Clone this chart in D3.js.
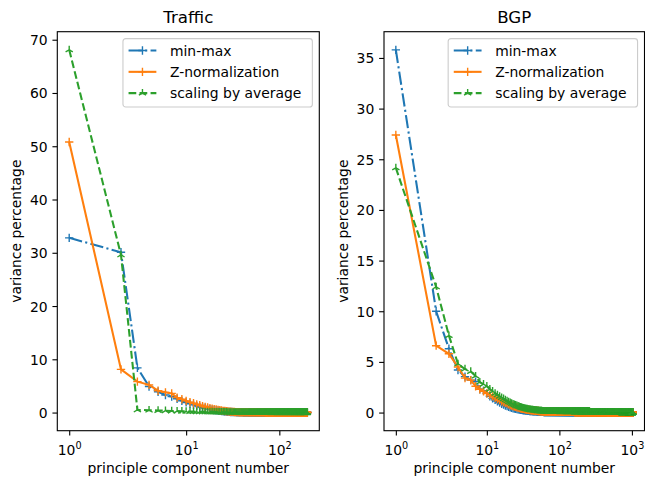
<!DOCTYPE html>
<html>
<head>
<meta charset="utf-8">
<script src="https://cdn.jsdelivr.net/npm/d3@7"></script>
<style>
body { margin: 0; background: #fff; }
text { font-family: "DejaVu Sans", sans-serif; fill: #000; }
</style>
</head>
<body>
<div id="chart"></div>
<script>
// values: first points one by one, the flat tail as [value, count] runs
var seriesLabels = ["min-max", "Z-normalization", "scaling by average"];

var trafficMinMax = [32.8, 30.1, 8.4, 4.9, 3.9, 3.3, 3.0, 2.6, 2.2, 1.9,
    1.65, 1.45, 1.25, 1.1, 0.95, 0.85, 0.75, 0.65, 0.55, 0.48,
    0.42, 0.36, 0.31, 0.27, 0.23, 0.2, 0.17, 0.15, 0.13, 0.11,
    0.1, 0.09, 0.08, 0.07, 0.06, 0.05, 0.05, 0.04, 0.04, 0.03];
var trafficMinMaxTail = [[0.02, 40], [0.01, 60], [0.0, 60]];

var trafficZNorm = [50.8, 8.1, 5.8, 5.2, 4.1, 3.8, 3.6, 2.8, 2.5, 2.2,
    1.95, 1.75, 1.55, 1.38, 1.22, 1.08, 0.95, 0.84, 0.74, 0.65,
    0.57, 0.5, 0.44, 0.38, 0.33, 0.29, 0.25, 0.22, 0.19, 0.16,
    0.14, 0.12, 0.1, 0.09, 0.08, 0.07, 0.06, 0.05, 0.04, 0.04];
var trafficZNormTail = [[0.03, 30], [0.02, 50], [0.01, 80]];

var trafficAverage = [68.1, 29.6, 0.5, 0.45, 0.38, 0.35, 0.3, 0.28, 0.25, 0.22,
    0.2, 0.18, 0.16, 0.15, 0.14, 0.13, 0.12, 0.11, 0.1, 0.09,
    0.09, 0.08, 0.08, 0.07, 0.07, 0.06, 0.06, 0.05, 0.05, 0.05,
    0.04, 0.04, 0.04, 0.04, 0.04, 0.04, 0.04, 0.04, 0.04, 0.04];
var trafficAverageTail = [[0.03, 40], [0.02, 60], [0.01, 60]];

var bgpMinMax = [35.8, 10.0, 6.3, 4.2, 3.55, 3.2, 3.05, 2.3, 2.15, 1.9,
    1.6, 1.4, 1.25, 1.1, 0.98, 0.87, 0.78, 0.7, 0.63, 0.57,
    0.52, 0.47, 0.43, 0.4, 0.37, 0.34, 0.32, 0.3, 0.28, 0.26,
    0.24, 0.22, 0.21, 0.2, 0.19, 0.18, 0.17, 0.16, 0.15, 0.15,
    0.14, 0.14, 0.13, 0.13, 0.12, 0.12, 0.11, 0.11, 0.1, 0.1,
    0.1, 0.09, 0.09, 0.09, 0.08, 0.08, 0.08, 0.07, 0.07, 0.07];
var bgpMinMaxTail = [[0.06, 40], [0.05, 60], [0.04, 100], [0.03, 200], [0.02, 264], [0.01, 300]];

var bgpZNorm = [27.4, 6.6, 5.8, 4.5, 3.4, 3.2, 2.6, 2.3, 2.1, 1.9,
    1.75, 1.6, 1.45, 1.33, 1.22, 1.12, 1.03, 0.95, 0.88, 0.81,
    0.75, 0.7, 0.65, 0.6, 0.56, 0.52, 0.49, 0.46, 0.43, 0.4,
    0.38, 0.36, 0.34, 0.32, 0.3, 0.28, 0.27, 0.26, 0.25, 0.24,
    0.23, 0.22, 0.21, 0.2, 0.19, 0.18, 0.18, 0.17, 0.16, 0.16,
    0.15, 0.15, 0.14, 0.14, 0.13, 0.13, 0.12, 0.12, 0.11, 0.11];
var bgpZNormTail = [[0.1, 40], [0.08, 60], [0.06, 100], [0.04, 200], [0.02, 264], [0.0, 300]];

var bgpAverage = [24.15, 12.4, 7.6, 4.8, 4.3, 4.05, 3.6, 3.0, 2.8, 2.6,
    2.3, 2.1, 1.9, 1.75, 1.6, 1.48, 1.36, 1.25, 1.15, 1.06,
    0.98, 0.9, 0.83, 0.77, 0.72, 0.67, 0.62, 0.58, 0.54, 0.5,
    0.47, 0.44, 0.41, 0.39, 0.37, 0.35, 0.33, 0.31, 0.29, 0.28,
    0.27, 0.26, 0.25, 0.24, 0.23, 0.22, 0.21, 0.2, 0.19, 0.18,
    0.18, 0.17, 0.17, 0.16, 0.16, 0.15, 0.15, 0.14, 0.14, 0.13];
var bgpAverageTail = [[0.12, 40], [0.1, 60], [0.08, 100], [0.05, 200], [0.03, 264], [0.01, 300]];

var trafficTicksY = [0, 10, 20, 30, 40, 50, 60, 70];
var bgpTicksY = [0, 5, 10, 15, 20, 25, 30, 35];
var trafficExpX = [0, 1, 2];
var bgpExpX = [0, 1, 2, 3];

function expand(head, tail) {
    var v = head.slice();
    tail.forEach(function(r) { for (var k = 0; k < r[1]; k++) v.push(r[0]); });
    return v;
}

// matplotlib symlog, base 10, linthresh 2, linscale 1
function symlog(x) {
    var lt = 2, adj = 1 / (1 - 1 / 10), a = Math.abs(x);
    if (a <= lt) return x * adj;
    return Math.sign(x) * lt * (adj + Math.log10(a / lt));
}

var colors = ["#1f77b4", "#ff7f0e", "#2ca02c"];
var dashes = ["13.3,3.3,2.1,3.3", null, "7.7,3.3"];
var r = 4.17;
var plusPath = "M" + (-r) + ",0H" + r + "M0," + (-r) + "V" + r;
var triPath = "M0,0V" + (-r) + "M0,0L" + (-0.866 * r) + "," + (0.5 * r) + "M0,0L" + (0.866 * r) + "," + (0.5 * r);
var markers = [plusPath, plusPath, triPath];

var svg = d3.select("#chart").append("svg")
    .attr("width", 645)
    .attr("height", 479);

var top_ = 31.7, bottom_ = 430.7;
var tick = 4.86, pad = 4.86;

function drawPanel(cfg) {
    var g = svg.append("g");
    var n = cfg.values[0].length;
    var t0 = symlog(1), t1 = symlog(n), tm = 0.05 * (t1 - t0);
    var x = d3.scaleLinear().domain([t0 - tm, t1 + tm]).range([cfg.left, cfg.right]);
    var all = [].concat.apply([], cfg.values);
    var ymin = d3.min(all), ymax = d3.max(all), ym = 0.05 * (ymax - ymin);
    var y = d3.scaleLinear().domain([ymin - ym, ymax + ym]).range([bottom_, top_]);

    var line = d3.line()
        .x(function(d, i) { return x(symlog(i + 1)); })
        .y(function(d) { return y(d); });

    cfg.values.forEach(function(vals, s) {
        g.append("path")
            .datum(vals)
            .attr("d", line)
            .attr("fill", "none")
            .attr("stroke", colors[s])
            .attr("stroke-width", 2.08)
            .attr("stroke-dasharray", dashes[s]);
        g.selectAll(".m" + s)
            .data(vals)
            .enter().append("path")
            .attr("class", "m" + s)
            .attr("d", markers[s])
            .attr("transform", function(d, i) { return "translate(" + x(symlog(i + 1)) + "," + y(d) + ")"; })
            .attr("fill", "none")
            .attr("stroke", colors[s])
            .attr("stroke-width", 1.39);
    });

    // x axis
    var gx = g.append("g")
        .attr("transform", "translate(0," + bottom_ + ")")
        .call(d3.axisBottom(x)
            .tickValues(cfg.expX.map(function(e) { return symlog(Math.pow(10, e)); }))
            .tickSize(tick).tickPadding(pad)
            .tickFormat(""));
    gx.select(".domain").remove();
    gx.selectAll(".tick line").attr("stroke-width", 1.11);
    gx.selectAll(".tick text").each(function(d, i) {
        var t = d3.select(this)
            .attr("y", null).attr("dy", null)
            .attr("transform", "translate(0,24)")
            .attr("font-size", 13.9)
            .attr("fill", "#000")
            .text("10");
        t.append("tspan").attr("dy", -6).attr("font-size", 9.7).text(cfg.expX[i]);
    });

    // y axis
    var gy = g.append("g")
        .attr("transform", "translate(" + cfg.left + ",0)")
        .call(d3.axisLeft(y).tickValues(cfg.ticksY).tickSize(tick).tickPadding(pad));
    gy.select(".domain").remove();
    gy.selectAll(".tick line").attr("stroke-width", 1.11);
    gy.selectAll(".tick text").attr("font-size", 13.9).attr("fill", "#000").attr("dy", "0.36em");
    gy.attr("font-family", null);
    gx.attr("font-family", null);

    // frame
    g.append("rect")
        .attr("x", cfg.left).attr("y", top_)
        .attr("width", cfg.right - cfg.left).attr("height", bottom_ - top_)
        .attr("fill", "none").attr("stroke", "#000").attr("stroke-width", 1.11);

    // title and labels
    g.append("text")
        .attr("x", (cfg.left + cfg.right) / 2).attr("y", 23.4)
        .attr("text-anchor", "middle").attr("font-size", 16.67)
        .text(cfg.title);
    g.append("text")
        .attr("x", (cfg.left + cfg.right) / 2).attr("y", 473)
        .attr("text-anchor", "middle").attr("font-size", 13.9)
        .text("principle component number");
    g.append("text")
        .attr("transform", "translate(" + cfg.ylabelX + "," + (top_ + bottom_) / 2 + ") rotate(-90)")
        .attr("text-anchor", "middle").attr("font-size", 13.9)
        .text("variance percentage");

    // legend
    var bw = 189.4;
    var lg = g.append("g")
        .attr("transform", "translate(" + (cfg.right - 6.94 - bw) + "," + (top_ + 6.94) + ")");
    lg.append("rect")
        .attr("width", bw).attr("height", 68.3).attr("rx", 2.8)
        .attr("fill", "#fff").attr("fill-opacity", 0.8)
        .attr("stroke", "#cccccc").attr("stroke-width", 1.11);
    var items = lg.selectAll(".item").data(seriesLabels).enter().append("g").attr("class", "item");
    items.append("text")
        .attr("x", 47).attr("y", function(d, i) { return 11.9 + i * 21.3; })
        .attr("dy", "0.36em").attr("font-size", 13.9)
        .text(function(d) { return d; });
    items.append("line")
        .attr("x1", 5.6).attr("x2", 33.4)
        .attr("y1", function(d, i) { return 11.9 + i * 21.3; })
        .attr("y2", function(d, i) { return 11.9 + i * 21.3; })
        .attr("stroke", function(d, i) { return colors[i]; })
        .attr("stroke-width", 2.08)
        .attr("stroke-dasharray", function(d, i) { return dashes[i]; });
    items.append("path")
        .attr("d", function(d, i) { return markers[i]; })
        .attr("transform", function(d, i) { return "translate(19.5," + (11.9 + i * 21.3) + ")"; })
        .attr("fill", "none")
        .attr("stroke", function(d, i) { return colors[i]; })
        .attr("stroke-width", 1.39);
}

drawPanel({
    title: "Traffic",
    left: 57.3, right: 319.3, ylabelX: 21,
    values: [expand(trafficMinMax, trafficMinMaxTail), expand(trafficZNorm, trafficZNormTail), expand(trafficAverage, trafficAverageTail)],
    ticksY: trafficTicksY, expX: trafficExpX
});

drawPanel({
    title: "BGP",
    left: 384, right: 644.5, ylabelX: 347.7,
    values: [expand(bgpMinMax, bgpMinMaxTail), expand(bgpZNorm, bgpZNormTail), expand(bgpAverage, bgpAverageTail)],
    ticksY: bgpTicksY, expX: bgpExpX
});
</script>
</body>
</html>
